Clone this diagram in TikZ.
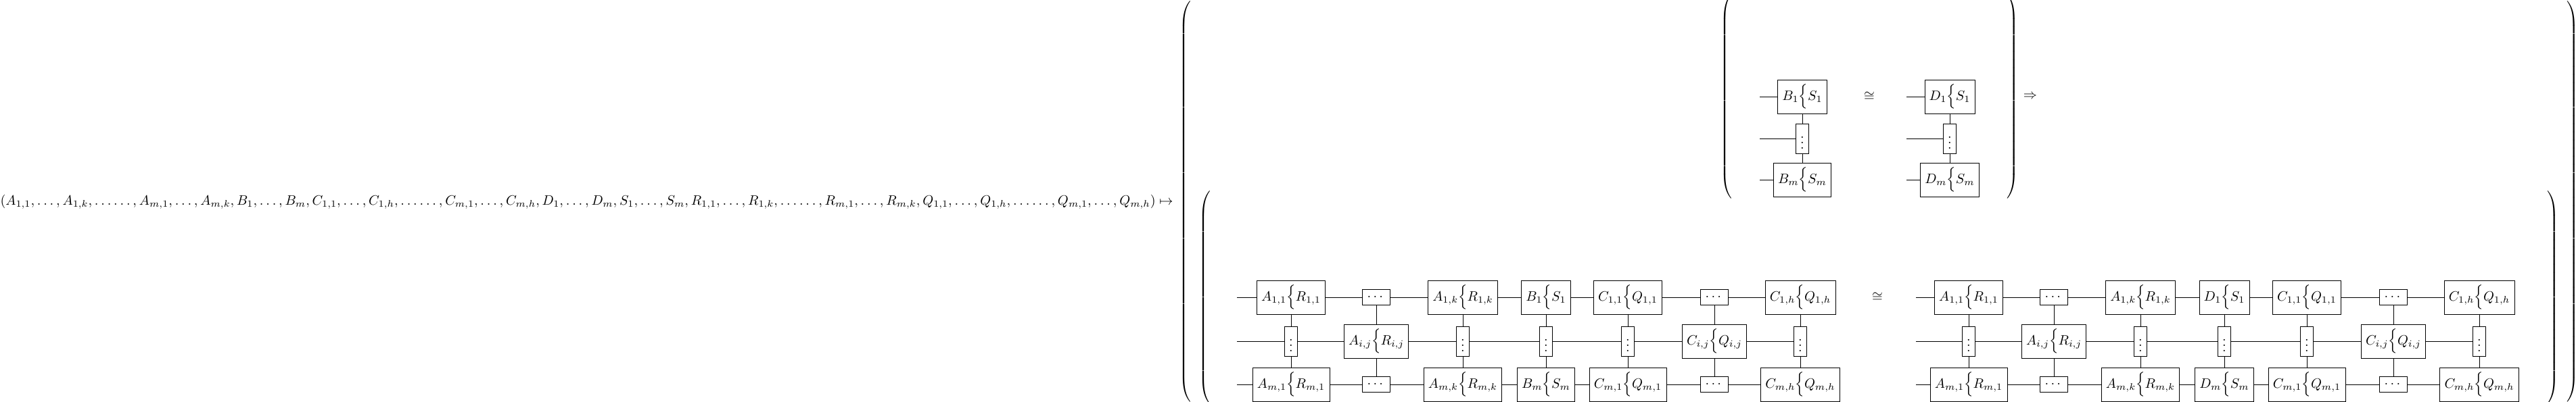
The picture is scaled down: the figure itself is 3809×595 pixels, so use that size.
\documentclass[tikz,border=0pt]{standalone}
\usepackage{amsmath}
\usepackage{tikz}

\newcommand{\tallopen}[1]{$\left(\vcenter{\hrule height #1 width 0pt}\right.$}
\newcommand{\tallclose}[1]{$\left.\vcenter{\hrule height #1 width 0pt}\right)$}

\begin{document}
\begin{tikzpicture}[x=0.495pt,y=-0.495pt,-,
  tensor/.style={draw,rectangle}]
      \tikzstyle{par}=[inner sep=0pt,outer sep=0pt]

  \useasboundingbox (0,0) rectangle (3809,595);

  % the map
  \node [anchor=base east,inner sep=0pt] (map) at (1735,303.5)
    {\thinmuskip=3.4mu $(A_{1,1},\ldots,A_{1,k},\ldots\ldots,A_{m,1},\ldots,A_{m,k},B_1,\ldots,B_m,C_{1,1},\ldots,C_{1,h},\ldots\ldots,C_{m,1},\ldots,C_{m,h},D_1,\ldots,D_m,S_1,\ldots,S_m,R_{1,1},\ldots,R_{1,k},\ldots\ldots,R_{m,1},\ldots,R_{m,k},Q_{1,1},\ldots,Q_{1,h},\ldots\ldots,Q_{m,1},\ldots,Q_{m,h})\mapsto$};

  \node [par] (ol) at (1754,298.5) {\tallopen{295.6pt}};
  \node [par] (or) at (3803,298.5) {\tallclose{295.6pt}};

  % upper half
  \node [par] (ul) at (2554,143) {\tallopen{151.5pt}};
  \node [par] (ur) at (2975,143) {\tallclose{151.5pt}};

  \coordinate (tb1w) at (2602,143);
  \coordinate (tbvw) at (2602,205);
  \coordinate (tbmw) at (2602,266);
  \node [tensor] (tb1) at (2665,143) {$B_1\Big\{S_1$};
  \node [tensor] (tbv) at (2665,205) {$\vdots$};
  \node [tensor] (tbm) at (2665,266) {$B_m\Big\{S_m$};
  \draw (tb1w) -- (tb1);
  \draw (tbvw) -- (tbv);
  \draw (tbmw) -- (tbm);
  \draw (tb1) -- (tbv) -- (tbm);

  \node (ucong) at (2764,143) {$\cong$};

  \coordinate (td1w) at (2819,143);
  \coordinate (tdvw) at (2819,205);
  \coordinate (tdmw) at (2819,266);
  \node [tensor] (td1) at (2883,143) {$D_1\Big\{S_1$};
  \node [tensor] (tdv) at (2883,205) {$\vdots$};
  \node [tensor] (tdm) at (2883,266) {$D_m\Big\{S_m$};
  \draw (td1w) -- (td1);
  \draw (tdvw) -- (tdv);
  \draw (tdmw) -- (tdm);
  \draw (td1) -- (tdv) -- (tdm);

  \node (imp) at (3002,143) {$\Rightarrow$};

  % lower half
  \node [par] (ll) at (1783,440) {\tallopen{157.5pt}};
  \node [par] (lr) at (3774,440) {\tallclose{157.5pt}};

  % left network
  \coordinate (l-w1) at (1829,440);
  \coordinate (l-w2) at (1829,505);
  \coordinate (l-w3) at (1829,569);
  \node [tensor] (l-a11) at (1909,440) {$A_{1,1}\Big\{R_{1,1}$};
  \node [tensor] (l-h1)  at (2035,440) {$\cdots$};
  \node [tensor] (l-a1k) at (2163,440) {$A_{1,k}\Big\{R_{1,k}$};
  \node [tensor] (l-b1)  at (2286,440) {$B_1\Big\{S_1$};
  \node [tensor] (l-c11) at (2407,440) {$C_{1,1}\Big\{Q_{1,1}$};
  \node [tensor] (l-h2)  at (2535,440) {$\cdots$};
  \node [tensor] (l-c1h) at (2662,440) {$C_{1,h}\Big\{Q_{1,h}$};

  \node [tensor] (l-v1)  at (1909,505) {$\vdots$};
  \node [tensor] (l-aij) at (2035,505) {$A_{i,j}\Big\{R_{i,j}$};
  \node [tensor] (l-v2)  at (2163,505) {$\vdots$};
  \node [tensor] (l-v3)  at (2286,505) {$\vdots$};
  \node [tensor] (l-v4)  at (2407,505) {$\vdots$};
  \node [tensor] (l-cij) at (2535,505) {$C_{i,j}\Big\{Q_{i,j}$};
  \node [tensor] (l-v5)  at (2662,505) {$\vdots$};

  \node [tensor] (l-am1) at (1909,569) {$A_{m,1}\Big\{R_{m,1}$};
  \node [tensor] (l-h3)  at (2035,569) {$\cdots$};
  \node [tensor] (l-amk) at (2163,569) {$A_{m,k}\Big\{R_{m,k}$};
  \node [tensor] (l-bm)  at (2286,569) {$B_m\Big\{S_m$};
  \node [tensor] (l-cm1) at (2407,569) {$C_{m,1}\Big\{Q_{m,1}$};
  \node [tensor] (l-h4)  at (2535,569) {$\cdots$};
  \node [tensor] (l-cmh) at (2662,569) {$C_{m,h}\Big\{Q_{m,h}$};

  \draw (l-w1) -- (l-a11) -- (l-h1) -- (l-a1k) -- (l-b1) -- (l-c11) -- (l-h2) -- (l-c1h);
  \draw (l-w2) -- (l-v1) -- (l-aij) -- (l-v2) -- (l-v3) -- (l-v4) -- (l-cij) -- (l-v5);
  \draw (l-w3) -- (l-am1) -- (l-h3) -- (l-amk) -- (l-bm) -- (l-cm1) -- (l-h4) -- (l-cmh);
  \draw (l-a11) -- (l-v1) -- (l-am1);
  \draw (l-h1) -- (l-aij) -- (l-h3);
  \draw (l-a1k) -- (l-v2) -- (l-amk);
  \draw (l-b1) -- (l-v3) -- (l-bm);
  \draw (l-c11) -- (l-v4) -- (l-cm1);
  \draw (l-h2) -- (l-cij) -- (l-h4);
  \draw (l-c1h) -- (l-v5) -- (l-cmh);

  \node (lcong) at (2776,440) {$\cong$};

  % right network
  \coordinate (r-w1) at (2833,440);
  \coordinate (r-w2) at (2833,505);
  \coordinate (r-w3) at (2833,569);
  \node [tensor] (r-a11) at (2911,440) {$A_{1,1}\Big\{R_{1,1}$};
  \node [tensor] (r-h1)  at (3037,440) {$\cdots$};
  \node [tensor] (r-a1k) at (3165,440) {$A_{1,k}\Big\{R_{1,k}$};
  \node [tensor] (r-d1)  at (3289,440) {$D_1\Big\{S_1$};
  \node [tensor] (r-c11) at (3411,440) {$C_{1,1}\Big\{Q_{1,1}$};
  \node [tensor] (r-h2)  at (3539,440) {$\cdots$};
  \node [tensor] (r-c1h) at (3666,440) {$C_{1,h}\Big\{Q_{1,h}$};

  \node [tensor] (r-v1)  at (2911,505) {$\vdots$};
  \node [tensor] (r-aij) at (3037,505) {$A_{i,j}\Big\{R_{i,j}$};
  \node [tensor] (r-v2)  at (3165,505) {$\vdots$};
  \node [tensor] (r-v3)  at (3289,505) {$\vdots$};
  \node [tensor] (r-v4)  at (3411,505) {$\vdots$};
  \node [tensor] (r-cij) at (3539,505) {$C_{i,j}\Big\{Q_{i,j}$};
  \node [tensor] (r-v5)  at (3666,505) {$\vdots$};

  \node [tensor] (r-am1) at (2911,569) {$A_{m,1}\Big\{R_{m,1}$};
  \node [tensor] (r-h3)  at (3037,569) {$\cdots$};
  \node [tensor] (r-amk) at (3165,569) {$A_{m,k}\Big\{R_{m,k}$};
  \node [tensor] (r-dm)  at (3289,569) {$D_m\Big\{S_m$};
  \node [tensor] (r-cm1) at (3411,569) {$C_{m,1}\Big\{Q_{m,1}$};
  \node [tensor] (r-h4)  at (3539,569) {$\cdots$};
  \node [tensor] (r-cmh) at (3666,569) {$C_{m,h}\Big\{Q_{m,h}$};

  \draw (r-w1) -- (r-a11) -- (r-h1) -- (r-a1k) -- (r-d1) -- (r-c11) -- (r-h2) -- (r-c1h);
  \draw (r-w2) -- (r-v1) -- (r-aij) -- (r-v2) -- (r-v3) -- (r-v4) -- (r-cij) -- (r-v5);
  \draw (r-w3) -- (r-am1) -- (r-h3) -- (r-amk) -- (r-dm) -- (r-cm1) -- (r-h4) -- (r-cmh);
  \draw (r-a11) -- (r-v1) -- (r-am1);
  \draw (r-h1) -- (r-aij) -- (r-h3);
  \draw (r-a1k) -- (r-v2) -- (r-amk);
  \draw (r-d1) -- (r-v3) -- (r-dm);
  \draw (r-c11) -- (r-v4) -- (r-cm1);
  \draw (r-h2) -- (r-cij) -- (r-h4);
  \draw (r-c1h) -- (r-v5) -- (r-cmh);

\end{tikzpicture}
\end{document}
